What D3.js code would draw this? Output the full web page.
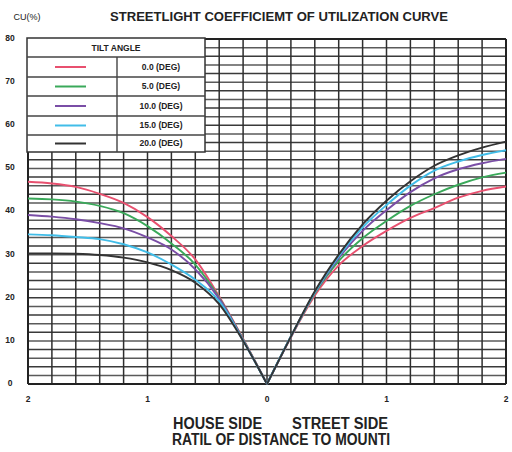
<!DOCTYPE html>
<html><head><meta charset="utf-8">
<script src="https://cdn.jsdelivr.net/npm/d3@7"></script>
<style>html,body{margin:0;padding:0;background:#fff;}svg{display:block;}</style>
</head><body><svg id="c" width="512" height="452"></svg>
<script>
// ---- data ----
const distances = [0, 0.2, 0.4, 0.6, 0.8, 1.0, 1.2, 1.4, 1.6, 1.8, 2.0];
const tiltLabels = ["0.0 (DEG)", "5.0 (DEG)", "10.0 (DEG)", "15.0 (DEG)", "20.0 (DEG)"];
const seriesColors = ["#e8506f", "#3aa95a", "#7a4ea6", "#41bde8", "#333333"];
// house side CU (%) by distance ratio
const house0  = [0, 10.5, 20.3, 28.9, 34.3, 38.7, 42.0, 44.1, 45.7, 46.5, 46.9];
const house5  = [0, 10.3, 20.0, 27.7, 32.6, 36.6, 39.6, 41.3, 42.3, 42.8, 43.0];
const house10 = [0, 10.2, 19.8, 26.6, 31.2, 34.0, 36.1, 37.3, 38.2, 38.8, 39.2];
const house15 = [0, 10.1, 19.2, 24.2, 27.7, 30.5, 32.4, 33.6, 34.1, 34.5, 34.7];
const house20 = [0, 10.0, 18.5, 23.5, 26.4, 28.2, 29.3, 29.9, 30.2, 30.3, 30.3];
// street side CU (%) by distance ratio
const street0  = [0, 10.8, 20.5, 27.5, 32.0, 35.5, 38.5, 40.8, 43.2, 44.8, 45.8];
const street5  = [0, 11.0, 21.0, 28.5, 33.8, 37.8, 41.3, 44.0, 46.2, 47.9, 49.0];
const street10 = [0, 11.0, 21.2, 29.2, 35.5, 40.3, 44.5, 47.7, 49.8, 51.2, 52.2];
const street15 = [0, 11.0, 21.3, 29.6, 36.3, 41.5, 46.0, 49.5, 51.6, 53.1, 54.2];
const street20 = [0, 11.0, 21.5, 30.0, 37.0, 42.5, 47.0, 50.6, 53.0, 54.8, 56.2];
const xTicks = [-2, -1, 0, 1, 2];
const yTicks = [0, 10, 20, 30, 40, 50, 60, 70, 80];
const houseSeries = [house0, house5, house10, house15, house20];
const streetSeries = [street0, street5, street10, street15, street20];

// ---- chart ----
const svg = d3.select("#c");
const x = d3.scaleLinear().domain([-2, 2]).range([28, 506]);
const y = d3.scaleLinear().domain([0, 80]).range([384, 39]);
const font = "'Liberation Sans Narrow','Arial Narrow','Liberation Sans',Arial,sans-serif";

// grid
const g = svg.append("g");
g.selectAll("line.h").data(d3.range(0, 81, 2)).join("line")
  .attr("x1", x(-2)).attr("x2", x(2)).attr("y1", d => y(d)).attr("y2", d => y(d))
  .attr("stroke", d => d % 4 === 0 ? "#3a3a3a" : "#5a5a5a").attr("stroke-width", 1.5);
g.selectAll("line.v").data(d3.range(-10, 11)).join("line")
  .attr("x1", d => x(d / 5)).attr("x2", d => x(d / 5)).attr("y1", y(0)).attr("y2", y(80))
  .attr("stroke", "#2e2e2e").attr("stroke-width", 1.5);
// frame
[[x(-2), x(2), y(0), y(0)], [x(-2), x(-2), y(0), y(80)], [x(2), x(2), y(0), y(80)], [x(-2), x(2), y(80), y(80)]]
  .forEach(c => g.append("line").attr("x1", c[0]).attr("x2", c[1]).attr("y1", c[2]).attr("y2", c[3]).attr("stroke", "#222").attr("stroke-width", 2));

// curves
const line = d3.line().x(d => x(d[0])).y(d => y(d[1])).curve(d3.curveMonotoneX);
houseSeries.forEach((s, i) => {
  const pts = distances.map((d, k) => [-d, s[k]]).reverse();
  svg.append("path").attr("d", line(pts)).attr("fill", "none").attr("stroke", seriesColors[i]).attr("stroke-width", 1.9);
});
streetSeries.forEach((s, i) => {
  const pts = distances.map((d, k) => [d, s[k]]);
  svg.append("path").attr("d", line(pts)).attr("fill", "none").attr("stroke", seriesColors[i]).attr("stroke-width", 1.9);
});

// legend
const L = svg.append("g");
const lx = 27, ly = 38, lw = 178, lh = 114;
L.append("rect").attr("x", lx).attr("y", ly).attr("width", lw).attr("height", lh).attr("fill", "#fff").attr("stroke", "#333").attr("stroke-width", 1.5);
const rowY = [57, 77, 96, 116, 135, 152];
rowY.slice(0, 5).forEach(ry => L.append("line").attr("x1", lx).attr("x2", lx + lw).attr("y1", ry).attr("y2", ry).attr("stroke", "#444").attr("stroke-width", 1.4));
L.append("line").attr("x1", 117).attr("x2", 117).attr("y1", 57).attr("y2", 152).attr("stroke", "#444").attr("stroke-width", 1.4);
L.append("text").attr("x", 116).attr("y", 48).attr("dy", "0.35em").attr("text-anchor", "middle")
  .attr("font-family", font).attr("font-size", 8.5).attr("font-weight", "bold").attr("fill", "#222").text("TILT ANGLE");
tiltLabels.forEach((t, i) => {
  const cy = (rowY[i] + rowY[i + 1]) / 2;
  L.append("line").attr("x1", 55).attr("x2", 86).attr("y1", cy).attr("y2", cy).attr("stroke", seriesColors[i]).attr("stroke-width", 2);
  L.append("text").attr("x", 161).attr("y", cy).attr("dy", "0.35em").attr("text-anchor", "middle")
    .attr("font-family", font).attr("font-size", 8.5).attr("font-weight", "bold").attr("fill", "#222").text(t);
});

// axis labels
svg.selectAll("text.yt").data(yTicks).join("text")
  .attr("x", 10).attr("y", d => y(d) - 1).attr("dy", "0.35em").attr("text-anchor", "middle")
  .attr("font-family", font).attr("font-size", 8.5).attr("font-weight", "bold").attr("fill", "#222").text(d => d);
svg.selectAll("text.xt").data(xTicks).join("text")
  .attr("x", d => x(d)).attr("y", 399).attr("dy", "0.35em").attr("text-anchor", "middle")
  .attr("font-family", font).attr("font-size", 8.5).attr("font-weight", "bold").attr("fill", "#222").text(d => Math.abs(d));

svg.append("text").attr("x", 27).attr("y", 20).attr("text-anchor", "middle").attr("font-family", font)
  .attr("font-size", 9).attr("fill", "#222").text("CU(%)");
svg.append("text").attr("x", 110).attr("y", 21).attr("textLength", 338).attr("lengthAdjust", "spacingAndGlyphs")
  .attr("font-family", font).attr("font-size", 13).attr("font-weight", "bold").attr("fill", "#222").text("STREETLIGHT COEFFICIEMT OF UTILIZATION CURVE");
svg.append("text").attr("x", 173).attr("y", 429).attr("textLength", 89).attr("lengthAdjust", "spacingAndGlyphs")
  .attr("font-family", font).attr("font-size", 16).attr("font-weight", "bold").attr("fill", "#222").text("HOUSE SIDE");
svg.append("text").attr("x", 292).attr("y", 429).attr("textLength", 96).attr("lengthAdjust", "spacingAndGlyphs")
  .attr("font-family", font).attr("font-size", 16).attr("font-weight", "bold").attr("fill", "#222").text("STREET SIDE");
svg.append("text").attr("x", 172).attr("y", 445).attr("textLength", 218).attr("lengthAdjust", "spacingAndGlyphs")
  .attr("font-family", font).attr("font-size", 16).attr("font-weight", "bold").attr("fill", "#222").text("RATIL OF DISTANCE TO MOUNTI");
</script></body></html>
